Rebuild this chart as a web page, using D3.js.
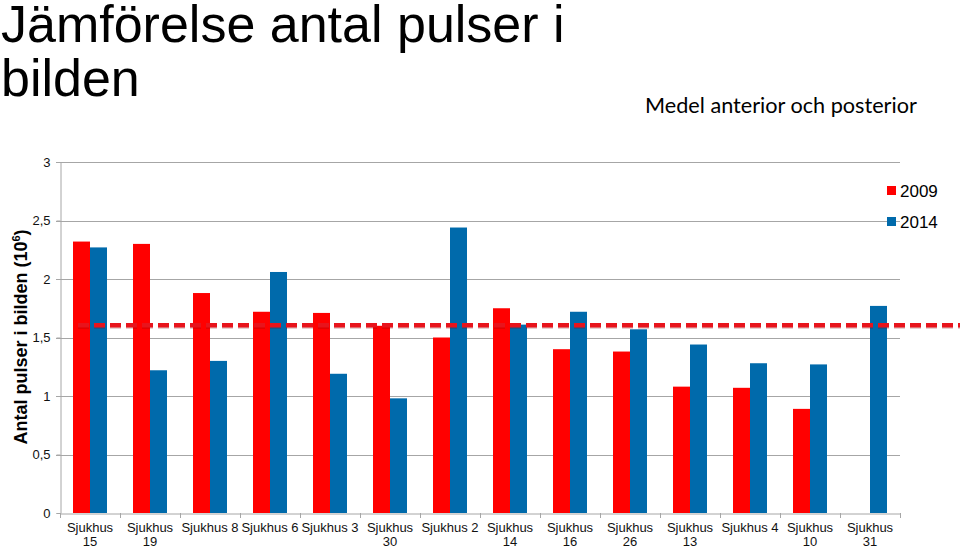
<!DOCTYPE html>
<html>
<head>
<meta charset="utf-8">
<script src="https://cdn.jsdelivr.net/npm/d3@7"></script>
<style>
  html, body { margin: 0; padding: 0; background: #fff; }
  svg { display: block; }
</style>
</head>
<body>
<svg id="chart" width="960" height="549"></svg>
<script>
// ---- data ----
const categories = ["Sjukhus 15","Sjukhus 19","Sjukhus 8","Sjukhus 6","Sjukhus 3","Sjukhus 30","Sjukhus 2",
                    "Sjukhus 14","Sjukhus 16","Sjukhus 26","Sjukhus 13","Sjukhus 4","Sjukhus 10","Sjukhus 31"];
const seriesNames = ["2009", "2014"];
const values2009 = [2.32, 2.30, 1.88, 1.72, 1.71, 1.60, 1.50, 1.75, 1.40, 1.38, 1.08, 1.07, 0.89, null];
const values2014 = [2.27, 1.22, 1.30, 2.06, 1.19, 0.98, 2.44, 1.61, 1.72, 1.57, 1.44, 1.28, 1.27, 1.77];
const meanValue = 1.605;
const yTickValues = [0, 0.5, 1, 1.5, 2, 2.5, 3];
const yTickLabels = ["0", "0,5", "1", "1,5", "2", "2,5", "3"];
const titleLines = ["Jämförelse antal pulser i", "bilden"];
const subtitle = "Medel anterior och posterior";
const yAxisTitle = "Antal pulser i bilden (10";
const yAxisTitleSup = "6";
const colors = {"2009": "#ff0000", "2014": "#006aab"};

// ---- layout ----
const svg = d3.select("#chart");
const plot = {left: 60, right: 900, top: 162, bottom: 513};
const gridColor = "#a6a6a6";
const fontArial = "'Liberation Sans', Arial, sans-serif";

const x0 = d3.scaleBand().domain(categories).range([plot.left, plot.right])
  .paddingInner(26/60).paddingOuter(13/60);
const x1 = d3.scaleBand().domain(seriesNames).range([0, x0.bandwidth()]);
const y = d3.scaleLinear().domain([0, 3]).range([plot.bottom, plot.top]);

// title
const title = svg.append("text").attr("font-family", fontArial).attr("font-size", 52).attr("fill", "#000");
titleLines.forEach((t, i) => {
  title.append("tspan").attr("x", 1).attr("y", 42 + i * 54).text(t);
});

// subtitle
const sub = svg.append("text").attr("font-family", "Lato, 'Open Sans', sans-serif")
  .attr("font-size", 20).attr("fill", "#000").attr("x", 645).attr("y", 113).text(subtitle);
const sw = sub.node().getComputedTextLength();
sub.attr("font-size", 20 * 272 / sw);

// gridlines
svg.append("g").selectAll("line").data(yTickValues.slice(1)).join("line")
  .attr("x1", plot.left - 4).attr("x2", plot.right)
  .attr("y1", d => Math.round(y(d)) + 0.5).attr("y2", d => Math.round(y(d)) + 0.5)
  .attr("stroke", gridColor).attr("stroke-width", 1);

// y axis
const yAxis = d3.axisLeft(y).tickValues(yTickValues).tickSize(4).tickPadding(6)
  .tickFormat((d, i) => yTickLabels[i]);
const gy = svg.append("g").attr("transform", `translate(${plot.left + 0.5},0)`).call(yAxis);
gy.select(".domain").attr("stroke", gridColor);
gy.selectAll(".tick line").attr("stroke", gridColor);
gy.selectAll(".tick text").attr("font-family", fontArial).attr("font-size", 13).attr("fill", "#111");

// bars
const groups = svg.append("g").selectAll("g").data(categories).join("g")
  .attr("transform", d => `translate(${x0(d)},0)`);
groups.selectAll("rect")
  .data((d, i) => [{s: "2009", v: values2009[i]}, {s: "2014", v: values2014[i]}].filter(e => e.v != null))
  .join("rect")
  .attr("x", d => x1(d.s)).attr("width", x1.bandwidth())
  .attr("y", d => y(d.v)).attr("height", d => y(0) - y(d.v))
  .attr("fill", d => colors[d.s]);

// x axis
const xAxis = d3.axisBottom(x0).tickSize(0).tickFormat("");
const gx = svg.append("g").attr("transform", `translate(0,${plot.bottom + 0.5})`).call(xAxis);
gx.select(".domain").attr("stroke", gridColor);
const step = x0.step();
const boundaries = d3.range(categories.length + 1).map(i => plot.left + i * step);
svg.append("g").selectAll("line").data(boundaries).join("line")
  .attr("x1", d => d + 0.5).attr("x2", d => d + 0.5)
  .attr("y1", plot.bottom).attr("y2", plot.bottom + 5)
  .attr("stroke", gridColor);

// x labels with wrapping
const xl = svg.append("g").attr("font-family", fontArial).attr("font-size", 13).attr("fill", "#111")
  .attr("text-anchor", "middle");
categories.forEach(c => {
  const cx = x0(c) + x0.bandwidth() / 2;
  const t = xl.append("text").attr("x", cx).attr("y", 532).text(c);
  if (t.node().getComputedTextLength() > step) {
    const words = c.split(" ");
    t.text(null);
    t.append("tspan").attr("x", cx).attr("y", 532).text(words[0]);
    t.append("tspan").attr("x", cx).attr("y", 546).text(words.slice(1).join(" "));
  }
});

// mean dashed line
const meanY = y(meanValue);
svg.append("line").attr("x1", 78).attr("x2", 960).attr("y1", meanY + 1.2).attr("y2", meanY + 1.2)
  .attr("stroke", "#7a0000").attr("stroke-opacity", 0.25).attr("stroke-width", 4.5)
  .attr("stroke-dasharray", "11,5");
svg.append("line").attr("x1", 78).attr("x2", 960).attr("y1", meanY).attr("y2", meanY)
  .attr("stroke", "#e8141c").attr("stroke-width", 4.5).attr("stroke-dasharray", "11,5");

// y axis title
const yt = svg.append("text").attr("font-family", fontArial).attr("font-size", 18).attr("font-weight", "bold")
  .attr("fill", "#000").attr("text-anchor", "middle")
  .attr("transform", "translate(27,337) rotate(-90)");
yt.append("tspan").text(yAxisTitle);
yt.append("tspan").attr("font-size", 11).attr("dy", -7).text(yAxisTitleSup);
yt.append("tspan").attr("dy", 7).text(")");

// legend
const legend = svg.append("g");
seriesNames.forEach((s, i) => {
  const ly = 186 + i * 31;
  legend.append("rect").attr("x", 887).attr("y", ly).attr("width", 9).attr("height", 9).attr("fill", colors[s]);
  legend.append("text").attr("x", 900).attr("y", ly + 11).attr("font-family", fontArial)
    .attr("font-size", 17).attr("fill", "#000").text(s);
});
</script>
</body>
</html>
